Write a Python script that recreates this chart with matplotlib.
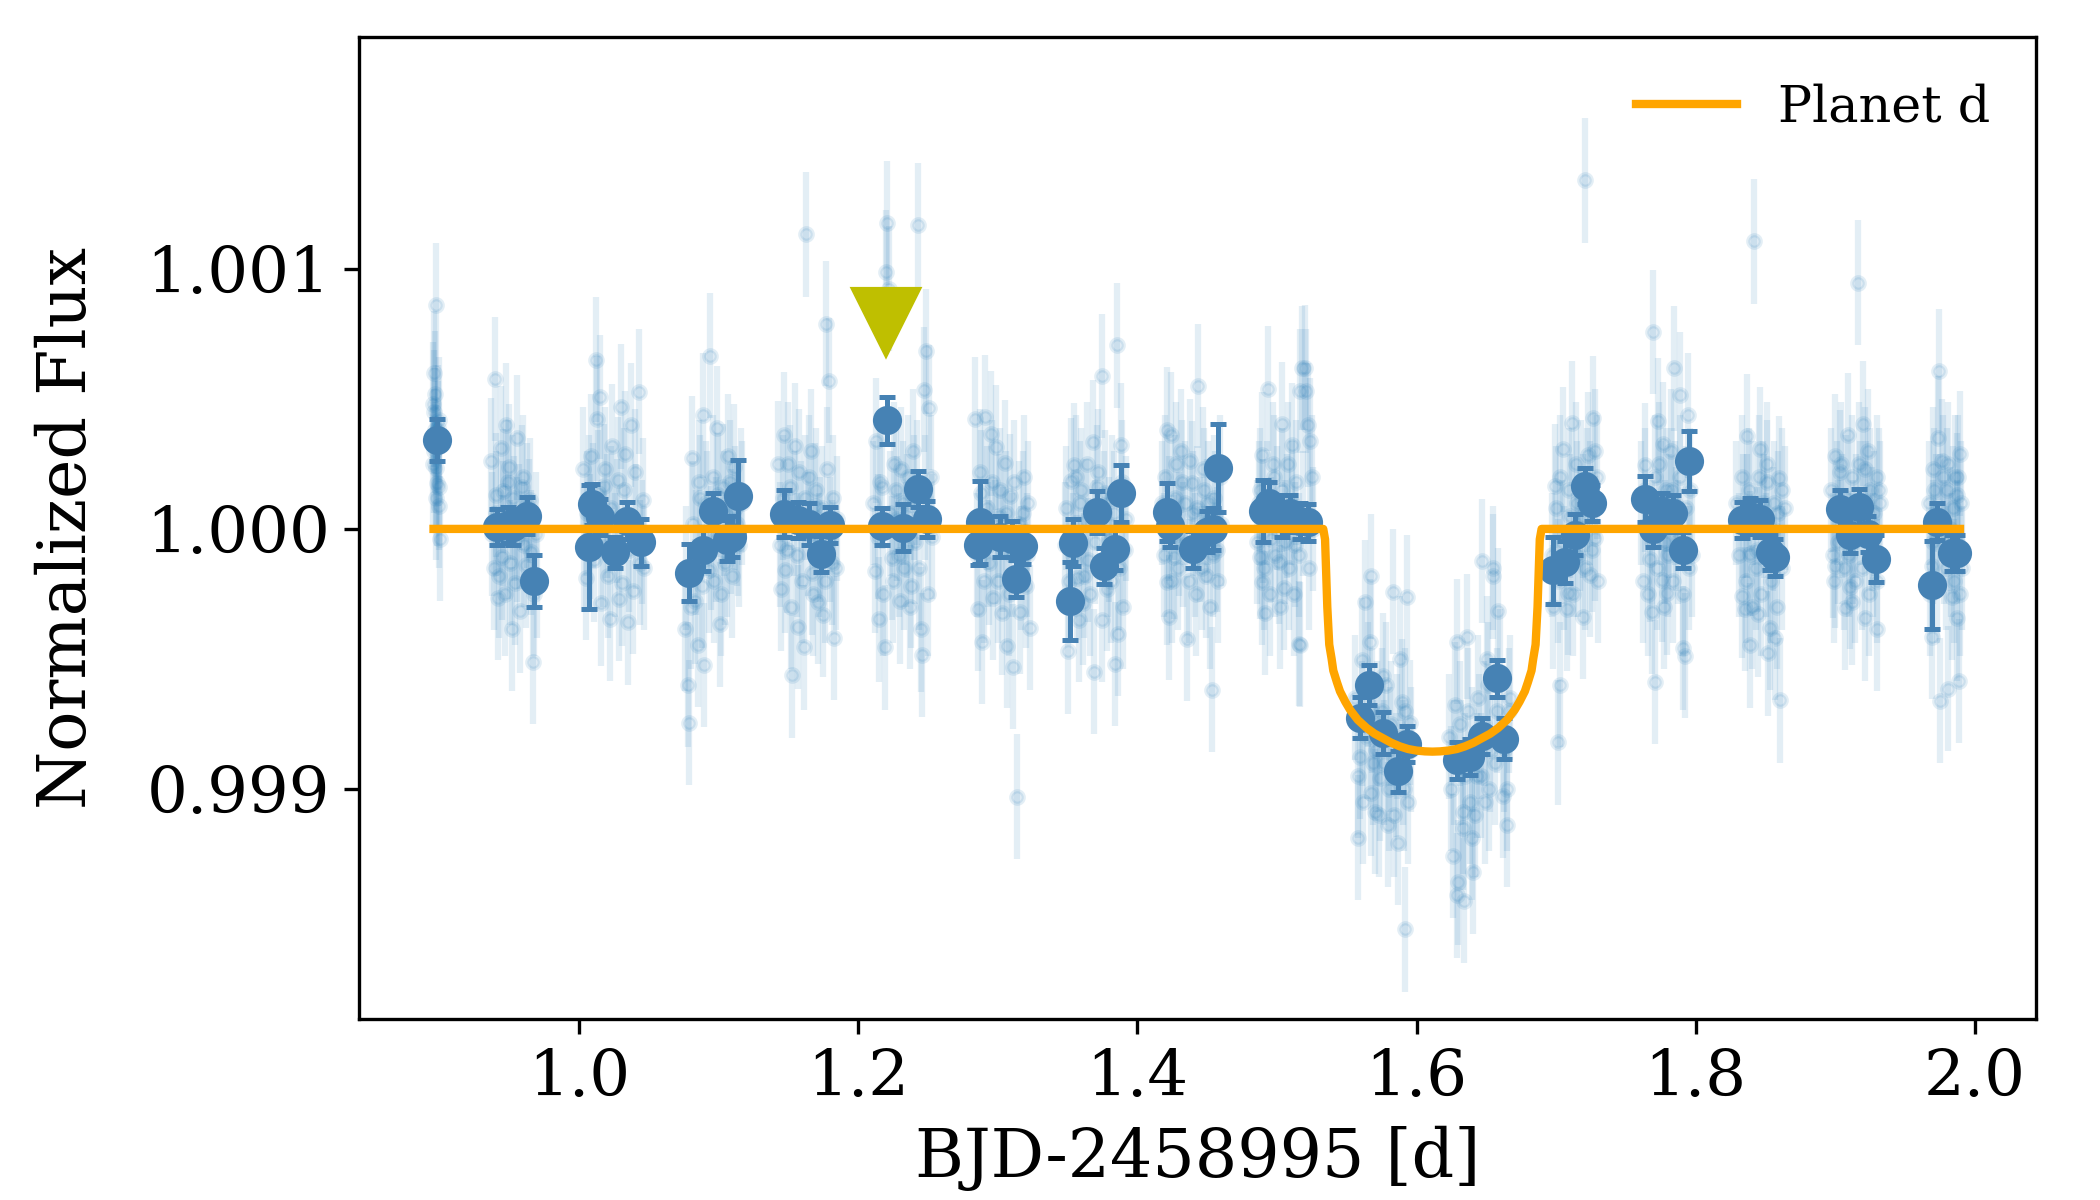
import matplotlib
matplotlib.use("Agg")
import matplotlib.pyplot as plt
import numpy as np

plt.rcParams['font.family'] = 'serif'

# unbinned photometry: time [BJD-2458995] and flux offset [ppm], one block per orbit
# (scattered points first)
raw_t = [
    0.8955, 0.896, 0.8965, 0.897, 0.8975, 0.898, 0.8985, 0.899, 0.8995, 0.900, 0.9005,
    0.937, 0.939, 0.940, 0.941, 0.942, 0.944, 0.945, 0.946, 0.948, 0.949, 0.950, 0.952, 0.953,
    0.954, 0.956, 0.957, 0.958, 0.960, 0.961, 0.963, 0.964, 0.966, 0.967, 0.968, 0.970,
    1.003, 1.005, 1.007, 1.008, 1.010, 1.012, 1.013, 1.015, 1.016, 1.018, 1.020, 1.022, 1.024,
    1.026, 1.028, 1.030, 1.031, 1.033, 1.035, 1.037, 1.039, 1.041, 1.043, 1.045, 1.047,
    1.076, 1.078, 1.079, 1.081, 1.083, 1.085, 1.087, 1.089, 1.090, 1.092, 1.094, 1.095, 1.097,
    1.099, 1.101, 1.103, 1.105, 1.107, 1.109, 1.111, 1.113, 1.115, 1.117,
    1.143, 1.145, 1.147, 1.149, 1.151, 1.153, 1.155, 1.157, 1.159, 1.161, 1.163, 1.165, 1.167,
    1.169, 1.171, 1.173, 1.175, 1.177, 1.179, 1.181, 1.183, 1.185,
    1.212, 1.213, 1.215, 1.217, 1.219, 1.220, 1.221, 1.222, 1.224, 1.226, 1.228, 1.230, 1.232,
    1.234, 1.236, 1.238, 1.240, 1.243, 1.245, 1.246, 1.247, 1.249, 1.251, 1.253,
    1.284, 1.286, 1.288, 1.289, 1.291, 1.293, 1.295, 1.297, 1.299, 1.301, 1.303, 1.305, 1.307,
    1.309, 1.311, 1.3135, 1.315, 1.317, 1.319, 1.321, 1.323,
    1.348, 1.3506, 1.3528, 1.355, 1.357, 1.359, 1.361, 1.363, 1.365, 1.3685, 1.369, 1.371,
    1.3745, 1.376, 1.378, 1.380, 1.382, 1.384, 1.3853, 1.386, 1.388, 1.390, 1.392,
    1.418, 1.421, 1.4215, 1.4226, 1.424, 1.426, 1.428, 1.430, 1.432, 1.4354, 1.4392, 1.440,
    1.442, 1.4437, 1.446, 1.448, 1.450, 1.452, 1.4533, 1.455, 1.457, 1.459,
    1.487, 1.4882, 1.4894, 1.4896, 1.4918, 1.4937, 1.496, 1.498, 1.5013, 1.5037, 1.505, 1.507,
    1.5109, 1.513, 1.5157, 1.5163, 1.5169, 1.518, 1.5199, 1.521, 1.522, 1.524, 1.526,
    1.5583, 1.5595, 1.5607, 1.5631, 1.5645, 1.5665, 1.5672, 1.5677, 1.569, 1.5701, 1.572, 1.574,
    1.576, 1.5797, 1.581, 1.5834, 1.585, 1.587, 1.5894, 1.591, 1.5918, 1.593, 1.595,
    1.6264, 1.6276, 1.6288, 1.629, 1.630, 1.632, 1.6335, 1.634, 1.6359, 1.6395, 1.6407, 1.643,
    1.645, 1.6467, 1.6503, 1.652, 1.6545, 1.655, 1.6586, 1.6617, 1.6646, 1.666,
    1.6992, 1.7016, 1.7028, 1.7052, 1.7075, 1.7087, 1.710, 1.7111, 1.713, 1.715, 1.717, 1.7194,
    1.7206, 1.722, 1.723, 1.7242, 1.7266, 1.7278, 1.729,
    1.7636, 1.7672, 1.7684, 1.7691, 1.7708, 1.7732, 1.775, 1.7756, 1.7768, 1.778, 1.7792, 1.781,
    1.783, 1.7844, 1.786, 1.7887, 1.7906, 1.7922, 1.7947, 1.797,
    1.8328, 1.834, 1.8352, 1.8364, 1.8388, 1.839, 1.8417, 1.843, 1.8448, 1.846, 1.848, 1.8508,
    1.852, 1.8532, 1.855, 1.8568, 1.8598, 1.8603, 1.8615,
    1.8986, 1.8998, 1.9000, 1.9034, 1.905, 1.9069, 1.9093, 1.9105, 1.9117, 1.913, 1.9164, 1.918,
    1.920, 1.9212, 1.9214, 1.9236, 1.926, 1.9296, 1.9298, 1.931,
    1.9689, 1.9691, 1.9701, 1.972, 1.9737, 1.9744, 1.9749, 1.9761, 1.978, 1.9797, 1.9809, 1.982,
    1.9833, 1.9868, 1.9870, 1.988, 1.9888, 1.9892,
]
raw_ppm = [
    480, 300, 450, 520, 862, 235, 175, 390, 160, 90, -37,
    263, -150, 577, 60, -265, 311, -110, 146, 400, -31, 240, -385, 120,
    -208, 351, 10, -315, 200, -60, 90, 30, -90, -512, -250, -180,
    230, -188, 120, -30, 90, 651, 424, 508, -287, 165, 50, -345, 318,
    -100, 190, 470, -210, 290, -360, 400, -240, 10, 528, -50, -150,
    -385, -600, -746, 273, -279, -446, 120, 437, -524, 60, 667, -73, -200,
    388, -367, 163, -130, 281, -10, 240, 20, -60, 100,
    251, -230, 363, -83, 160, -563, 320, -377, 20, -455, 1134, 200, -170,
    90, -280, -40, -330, 790, 571, -130, -420, 40,
    -161, 339, -348, 163, -455, 987, 1177, 924, -112, 250, 40, -279, 100,
    -60, 200, -220, 120, 1169, -387, -485, 535, 683, 467, -30,
    423, -308, 140, -435, 431, -60, 367, -265, 314, 50, -323, 255, -451,
    127, -530, -1031, 20, -150, 200, -100, -380,
    -60, -471, 186, 245, -187, 100, -285, 30, -120, 333, -550, 160,
    588, 60, -230, -40, 120, -520, 706, -403, 323, -300, 40,
    100, 382, -206, -340, 363, -108, 250, -20, 180, -422, 177, 60,
    -250, 550, -150, 150, 30, -300, -618, 120, -80, 200,
    100, -108, 285, -206, -324, 539, -40, 200, -127, 402, -226, 50,
    323, -60, -442, -445, 531, 619, 621, 531, 400, 340, 0,
    -1188, -877, -504, -283, -800, -434, -183, -1018, -900, -1088, -750, -960,
    -565, -1138, -850, -242, -947, -1209, -665, -1000, -1541, -263, -746,
    -1259, -676, -434, -1410, -1360, -900, -1088, -1430, -414, -1188, -1319, -950,
    -800, -123, -500, -1000, -183, -150, -314, -1027, -1138, -700,
    165, -821, -600, 306, -308, -247, 50, 406, -100, 100, 0, -338,
    1342, 150, 286, -177, 427, -36, 200,
    245, -117, -318, 758, -589, 417, 100, -196, 326, -50, -247, 50,
    150, 618, 0, 517, -458, -488, 437, -100,
    -258, 50, -308, 356, -96, -448, 1107, -150, -328, 306, 100, 250,
    -479, -380, 0, -418, 195, -660, 150,
    -102, 281, -142, 219, 50, -304, 360, -223, -283, -50, 948, 100,
    405, 230, -344, 300, 0, 200, -385, 150,
    -142, -414, 230, 50, 350, 608, -661, 260, -50, 149, -615, 0,
    -263, 129, -344, 199, -585, 290,
]
# (points in the dense core of each orbit)
core_t = [
    0.8958, 0.8962, 0.8968, 0.8978, 0.8988, 0.8998,
    0.938, 0.9405, 0.943, 0.9455, 0.947, 0.9495, 0.951, 0.9535, 0.9555, 0.959, 0.962, 0.965, 0.9695,
    1.004, 1.006, 1.009, 1.011, 1.014, 1.017, 1.019, 1.021, 1.023, 1.027, 1.029, 1.032, 1.036,
    1.040, 1.044, 1.046,
    1.077, 1.080, 1.082, 1.084, 1.086, 1.088, 1.091, 1.093, 1.096, 1.098, 1.100, 1.102, 1.104,
    1.106, 1.108, 1.110, 1.112, 1.114, 1.116,
    1.144, 1.146, 1.148, 1.150, 1.152, 1.154, 1.156, 1.158, 1.160, 1.162, 1.164, 1.166, 1.168,
    1.170, 1.172, 1.174, 1.176, 1.178, 1.180, 1.182, 1.184,
    1.211, 1.214, 1.216, 1.218, 1.223, 1.225, 1.227, 1.229, 1.231, 1.233, 1.235, 1.237, 1.239,
    1.241, 1.242, 1.244, 1.248, 1.250, 1.252,
    1.285, 1.287, 1.290, 1.292, 1.294, 1.296, 1.298, 1.300, 1.302, 1.304, 1.306, 1.308, 1.310,
    1.312, 1.316, 1.318, 1.320, 1.322,
    1.349, 1.351, 1.354, 1.356, 1.358, 1.360, 1.362, 1.364, 1.366, 1.370, 1.372, 1.375, 1.377,
    1.379, 1.381, 1.383, 1.387, 1.389, 1.391,
    1.419, 1.420, 1.423, 1.425, 1.427, 1.429, 1.431, 1.433, 1.434, 1.437, 1.438, 1.441, 1.443,
    1.445, 1.447, 1.449, 1.451, 1.454, 1.456, 1.458, 1.460,
    1.486, 1.488, 1.490, 1.491, 1.493, 1.495, 1.497, 1.499, 1.500, 1.502, 1.504, 1.506, 1.508,
    1.509, 1.511, 1.512, 1.514, 1.516, 1.519, 1.523, 1.525,
    1.556, 1.558, 1.561, 1.562, 1.565, 1.568, 1.571, 1.573, 1.575, 1.577, 1.578, 1.580, 1.582,
    1.584, 1.586, 1.588, 1.590, 1.592, 1.594, 1.596,
    1.623, 1.625, 1.627, 1.631, 1.633, 1.635, 1.637, 1.638, 1.640, 1.642, 1.644, 1.646, 1.648,
    1.649, 1.651, 1.653, 1.656, 1.658, 1.660, 1.663, 1.665, 1.667,
    1.697, 1.698, 1.700, 1.701, 1.703, 1.704, 1.706, 1.709, 1.712, 1.714, 1.716, 1.718, 1.719,
    1.721, 1.724, 1.726, 1.728, 1.730,
    1.761, 1.762, 1.764, 1.766, 1.769, 1.771, 1.772, 1.774, 1.777, 1.779, 1.780, 1.782, 1.784,
    1.785, 1.787, 1.789, 1.791, 1.793, 1.795, 1.796,
    1.829, 1.831, 1.833, 1.836, 1.837, 1.838, 1.840, 1.841, 1.844, 1.845, 1.847, 1.849, 1.850,
    1.851, 1.854, 1.856, 1.858, 1.859, 1.862, 1.864,
    1.897, 1.899, 1.901, 1.902, 1.904, 1.906, 1.908, 1.910, 1.912, 1.914, 1.915, 1.917, 1.919,
    1.922, 1.924, 1.925, 1.927, 1.928, 1.930, 1.932,
    1.967, 1.968, 1.970, 1.971, 1.973, 1.975, 1.977, 1.979, 1.981, 1.983, 1.984, 1.985, 1.986,
    1.987, 1.989, 1.990, 1.991,
]
core_ppm = [
    250, 600, 380, 120, 330, 420,
    -20, 130, -180, 20, -250, 180, -130, 40, -40, 160, -140, 110, -20,
    -80, 60, 280, -120, 140, -60, 230, -180, 80, 30, -270, 150, -80,
    220, -130, 110,
    -150, -300, 20, -90, 180, -220, 100, -160, 200, -40, 130, -250, 60,
    -100, 180, -180, 80, -20, 150,
    -60, 120, -160, 250, -300, 60, -100, 220, -200, 120, -20, 300, -250,
    150, -100, 80, -200, 230, -40, 120, -150,
    100, -30, 180, -250, 60, -200, 150, -100, 230, -150, 50, -300, 300,
    -50, 180, -150, 120, -250, 200,
    -100, 220, -200, 80, -130, 180, -50, -200, 150, -80, 60, -250, -100,
    180, -320, 60, -220, 100,
    80, -200, -100, 200, -350, 150, -180, 250, -250, -50, 220, -350, 140,
    -100, -200, 60, -150, 180, -80,
    -100, 200, 40, -200, 120, -150, 300, -60, 100, -200, 260, -100, 80,
    -40, 230, -180, 100, -100, 60, -200, 20,
    -50, 150, 30, -150, 100, -250, 250, -100, 80, -300, 150, -50, 250,
    -150, 100, -250, 180, -100, 60, -150, 200,
    -650, -950, -750, -1050, -600, -700, -850, -1100, -700, -900, -600, -1000, -750,
    -1100, -800, -500, -900, -700, -1050, -850,
    -800, -1000, -900, -750, -1150, -950, -700, -1050, -850, -1100, -650, -950, -750,
    -1050, -600, -850, -900, -700, -550, -850, -1000, -650,
    -100, -300, 80, -200, 200, -50, -150, 150, -250, 250, -100, 180, 50,
    -150, 100, -80, 300, -200,
    100, -200, 150, -250, -50, 200, -150, 250, -300, 150, -100, 300, -200,
    100, -50, 200, -250, 80, -150, 150,
    100, -100, 200, -200, 50, 150, -300, 100, -80, 200, -250, 50, -100,
    180, -200, 100, -300, 60, -150, 80,
    150, -200, 100, -50, 250, -150, 120, -100, 200, -200, 50, 250, -150,
    100, -250, 150, -100, 60, -200, 100,
    100, -250, -50, 150, -200, 50, 200, -150, 250, -100, 80, -200, 200,
    -50, -250, 100, -150,
]
raw_err_ppm = 240

# binned photometry
bin_t = [
    0.8987, 0.9412, 0.9494, 0.9531, 0.9627, 0.9681,
    1.0075, 1.0092, 1.0152, 1.0261, 1.0343, 1.0443,
    1.0790, 1.0892, 1.0959, 1.1059, 1.1100, 1.1142,
    1.1472, 1.1572, 1.1650, 1.1732, 1.1799,
    1.2169, 1.2210, 1.2324, 1.2432, 1.2496,
    1.2862, 1.2873, 1.3017, 1.3100, 1.3131, 1.3184,
    1.3520, 1.3542, 1.3709, 1.3764, 1.3840, 1.3886,
    1.4210, 1.4234, 1.4401, 1.4497, 1.4545, 1.4580,
    1.4902, 1.4945, 1.5034, 1.5094, 1.5165, 1.5223,
    1.5595, 1.5660, 1.5762, 1.5870, 1.5933,
    1.6287, 1.6383, 1.6467, 1.6574, 1.6627,
    1.6980, 1.7063, 1.7135, 1.7206, 1.7255,
    1.7636, 1.7696, 1.7756, 1.7839, 1.7906, 1.7954,
    1.8330, 1.8390, 1.8460, 1.8530, 1.8570,
    1.9033, 1.9105, 1.9171, 1.9236, 1.9291,
    1.9692, 1.9725, 1.9833, 1.9870,
]
bin_ppm = [
    342, 8, 15, 8, 51, -202,
    -70, 94, 47, -90, 32, -51,
    -168, -83, 68, -44, -30, 125,
    58, 35, 20, -97, 15,
    10, 418, 5, 153, 39,
    -60, 25, -30, -40, -191, -65,
    -277, -53, 65, -143, -79, 137,
    65, 10, -79, -10, 0, 235,
    68, 100, 50, 60, 30, 25,
    -726, -602, -786, -933, -827,
    -891, -877, -796, -575, -807,
    -160, -127, -22, 165, 100,
    115, 0, 70, 60, -82, 260,
    35, 50, 40, -90, -110,
    78, -22, 83, -20, -115,
    -217, 28, -92, -92,
]
bin_err_ppm = [
    80, 70, 70, 70, 70, 100,
    240, 80, 70, 60, 70, 90,
    110, 80, 70, 80, 80, 140,
    90, 70, 80, 70, 70,
    70, 90, 90, 70, 70,
    80, 160, 80, 70, 70, 70,
    150, 90, 80, 70, 80, 110,
    110, 80, 70, 80, 80, 170,
    120, 80, 80, 70, 70, 70,
    80, 77, 80, 80, 70,
    70, 70, 70, 70, 80,
    130, 80, 80, 70, 70,
    90, 70, 70, 70, 70, 116,
    70, 70, 70, 70, 70,
    70, 70, 70, 70, 90,
    170, 70, 70, 70,
]

# transit model of planet d
model_t = [0.8959, 1.5332, 1.5345, 1.5361, 1.5375, 1.5392, 1.5404, 1.5430, 1.5452, 1.5490,
           1.5524, 1.5580, 1.5643, 1.5700, 1.5762, 1.5820, 1.5882, 1.5940, 1.6001, 1.6060,
           1.6114,
           1.6168, 1.6227, 1.6288, 1.6346, 1.6408, 1.6466, 1.6528, 1.6585, 1.6648, 1.6704,
           1.6738, 1.6776, 1.6798, 1.6824, 1.6836, 1.6853, 1.6867, 1.6883, 1.6896, 1.9893]
model_ppm = [0, 0, -40, -300, -445, -500, -545, -590, -625, -665,
             -696, -735, -766, -788, -806, -823, -837, -847, -853, -856,
             -857,
             -856, -853, -847, -837, -823, -806, -788, -766, -735, -696,
             -665, -625, -590, -545, -500, -445, -300, -40, 0, 0]

marker_t = 1.2201
marker_flux = 1.000797

all_t = raw_t + core_t
all_flux = 1 + np.array(raw_ppm + core_ppm) * 1e-6
bin_flux = 1 + np.array(bin_ppm) * 1e-6
bin_err = np.array(bin_err_ppm) * 1e-6
model_flux = 1 + np.array(model_ppm) * 1e-6

fig, ax = plt.subplots(figsize=(7, 4), dpi=300)
fig.subplots_adjust(left=0.171, right=0.9695, top=0.969, bottom=0.151)

ax.errorbar(all_t, all_flux, yerr=raw_err_ppm * 1e-6, fmt='o', ms=3, color='#1f77b4',
            elinewidth=1.5, alpha=0.12, zorder=1)
ax.errorbar(bin_t, bin_flux, yerr=bin_err, fmt='o', ms=6, color='steelblue',
            elinewidth=1.2, capsize=2, capthick=1.2, zorder=2)
ax.plot(model_t, model_flux, color='orange', lw=2, label='Planet d', zorder=3)
ax.plot([marker_t], [marker_flux], 'v', color='y', ms=16, zorder=4)

ax.set_xlim(0.8426, 2.0437)
ax.set_ylim(0.998115, 1.001892)
ax.set_xticks([1.0, 1.2, 1.4, 1.6, 1.8, 2.0])
ax.set_yticks([0.999, 1.000, 1.001])
ax.set_yticklabels(['0.999', '1.000', '1.001'])
ax.tick_params(labelsize=15.4)
ax.set_xlabel('BJD-2458995 [d]', fontsize=16)
ax.set_ylabel('Normalized Flux', fontsize=16, labelpad=11)
ax.legend(loc='upper right', frameon=False, fontsize=12.2)

fig.savefig('out.png', dpi=300)
